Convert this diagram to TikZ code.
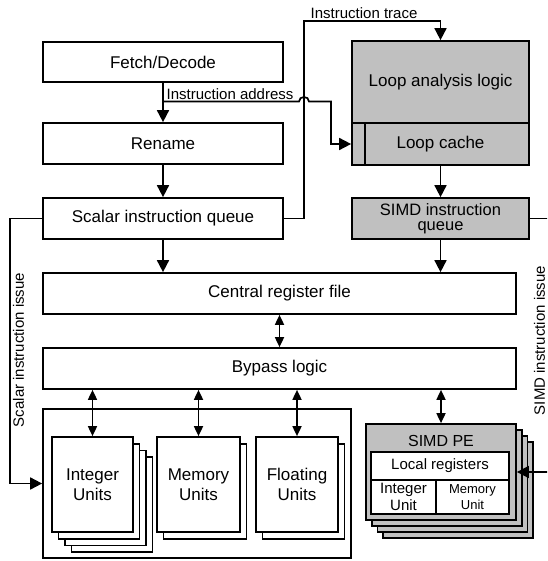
\documentclass[tikz,border=0pt]{standalone}
\usepackage{fontspec}
\setmainfont{Liberation Sans}
\usetikzlibrary{arrows.meta,shadows,calc}
\definecolor{simdgray}{HTML}{C0C0C0}
\newcommand\mainfs{\fontsize{17}{19.5}\selectfont}
\newcommand\labfs{\fontsize{15}{17}\selectfont}
\tikzset{
  ln/.style={line width=1.7pt},
  box/.style={draw, ln, fill=white, inner sep=0pt, align=center, font=\mainfs},
  gbox/.style={box, fill=simdgray},
  lab/.style={inner sep=1pt, font=\labfs},
  arr/.style={ln, -{Triangle[length=12pt,width=12pt]}},
  darr/.style={ln, {Triangle[length=10pt,width=9pt]}-{Triangle[length=10pt,width=9pt]}},
  stackcopy/.style={copy shadow={shadow xshift=#1*6.5pt, shadow yshift=-#1*6.7pt, line width=1.7pt}},
  gstackcopy/.style={copy shadow={shadow xshift=#1*5.7pt, shadow yshift=-#1*6pt, line width=1.7pt, fill=simdgray}},
}
\begin{document}
\begin{tikzpicture}[x=1pt,y=-1pt]
\useasboundingbox (0,0) rectangle (547,561);
\clip (0,0) rectangle (547,561);

% scalar front end
\node[box, minimum width=240pt, minimum height=40pt] (fetch) at (163,62) {Fetch/Decode};
\node[box, minimum width=240pt, minimum height=41pt] (rename) at (163,143.5) {Rename};
\node[box, minimum width=240pt, minimum height=41pt] (squeue) at (163,218.5) {Scalar instruction queue};

% loop buffer and SIMD queue
\node[gbox, minimum width=177pt, minimum height=82pt] (loopa) at (440.5,82) {Loop analysis logic};
\node[gbox, minimum width=177pt, minimum height=42pt] (loopc) at (440.5,144) {Loop cache};
\draw[ln] ([xshift=14pt]loopc.north west) -- ([xshift=14pt]loopc.south west);
\node[gbox, minimum width=177pt, minimum height=41pt, font=\fontsize{16.5}{15}\selectfont] (simdq) at (440.5,218.5) {SIMD instruction\\queue};

% shared register file and bypass network
\node[box, minimum width=473pt, minimum height=41pt] (crf) at (279.5,293.5) {Central register file};
\node[box, minimum width=473pt, minimum height=41pt] (bypass) at (279.5,368.5) {Bypass logic};

% scalar execution units
\node[box, minimum width=308pt, minimum height=149pt] (outer) at (197,483.5) {};
\node[box, minimum width=81pt, minimum height=95pt,
      stackcopy=3, stackcopy=2, stackcopy=1] (intU) at (92.5,484.5) {Integer\\Units};
\node[box, minimum width=83pt, minimum height=95pt, stackcopy=1] (memU) at (198.5,484.5) {Memory\\Units};
\node[box, minimum width=82pt, minimum height=95pt, stackcopy=1] (fltU) at (297,484.5) {Floating\\Units};

% SIMD processing elements
\node[gbox, minimum width=150pt, minimum height=96pt,
      gstackcopy=3, gstackcopy=2, gstackcopy=1] (pe) at (441,472) {};
\node[inner sep=0pt, font=\fontsize{16}{18}\selectfont] (petitle) at (441,441) {SIMD PE};
\node[box, minimum width=138pt, minimum height=28pt, font=\labfs] (lreg) at (440,466) {Local registers};
\node[box, minimum width=65pt, minimum height=34pt, font=\fontsize{15}{17}\selectfont] (peint) at (403.5,497) {Integer\\Unit};
\node[box, minimum width=73pt, minimum height=34pt, font=\fontsize{13}{16}\selectfont] (pemem) at (472.5,497) {Memory\\Unit};

% pipeline arrows
\draw[arr] (fetch) -- (rename);
\draw[arr] (rename) -- (squeue);
\draw[arr] (squeue.south) -- (squeue.south |- crf.north);
\draw[arr] (loopc) -- (simdq);
\draw[arr] (simdq.south) -- (simdq.south |- crf.north);
\draw[darr] (crf) -- (bypass);
\draw[darr] (bypass.south -| intU.north) -- (intU.north);
\draw[darr] (bypass.south -| memU.north) -- (memU.north);
\draw[darr] (bypass.south -| fltU.north) -- (fltU.north);
\draw[darr] (bypass.south -| pe.north) -- (pe.north);

% instruction trace into the loop analysis logic
\coordinate (tr) at (304,21);
\draw[arr] (squeue.east) -| (tr) -| (loopa.north);
\node[lab, anchor=south west] (trlab) at (309.5,20) {Instruction trace};

% instruction address into the loop cache, hopping over the trace line
\coordinate (ia) at (163,101.5);
\coordinate (ib) at (331,144);
\draw[arr] (ia) -- (299,101.5) .. controls (299,95.5) and (309,95.5) .. (309,101.5) -| (ib) -- (loopc.west);
\node[lab, anchor=south west] (ialab) at (165.5,100.5) {Instruction address};

% scalar issue path
\coordinate (si) at (10,483.5);
\draw[arr] (squeue.west) -| (si) -- (outer.west);
\node[lab, rotate=90] (silab) at (18.5,350) {Scalar instruction issue};

% SIMD issue path, its vertical run lies just past the right edge
\coordinate (sr) at (560,472);
\draw[arr] (simdq.east) -| (sr) -- (pe.east);
\node[lab, rotate=90] (sdlab) at (539.5,340.5) {SIMD instruction issue};
\end{tikzpicture}
\end{document}
